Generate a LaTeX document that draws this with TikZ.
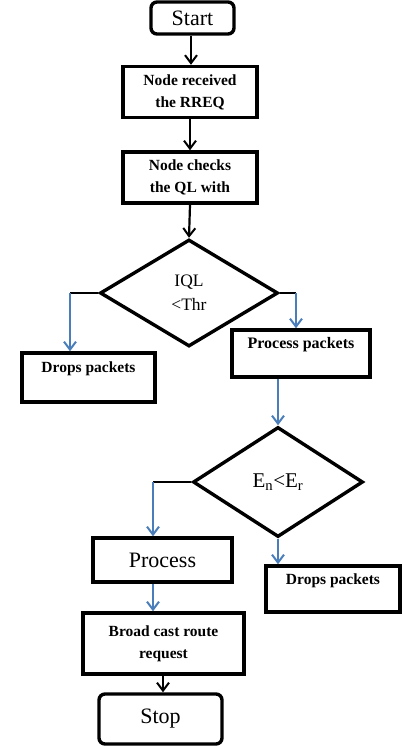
\documentclass[tikz,border=0pt]{standalone}
\usepackage{fontspec}
\setmainfont{Liberation Serif}
\usetikzlibrary{shapes.geometric,arrows.meta}
\definecolor{arrblue}{RGB}{74,126,187}
\tikzset{
  box/.style={draw=black,line width=3.4pt,rectangle,inner sep=2pt,align=center},
  term/.style={box,rounded corners=6pt},
  dec/.style={draw=black,line width=3.4pt,diamond,inner sep=0pt,align=center},
  blk/.style={draw=black,line width=2.2pt},
  blkarr/.style={blk,-{Straight Barb[length=8pt,width=12pt,line width=2pt]}},
  bluarr/.style={draw=arrblue,line width=2.2pt,-{Straight Barb[length=8pt,width=12pt,line width=2pt]}},
  big/.style={font=\fontsize{22}{24}\selectfont},
  mid/.style={font=\bfseries\fontsize{15.5}{22}\selectfont},
  up/.style={text height=11pt,text depth=21pt}
}
\begin{document}
\begin{tikzpicture}[x=1pt,y=1pt]
\useasboundingbox (0,0) rectangle (402,-746);
\node[term,big,minimum width=83,minimum height=32] (start) at (192.5,-18) {Start};
\node[box,mid,minimum width=134,minimum height=51] (recv) at (190,-92) {Node received\\the RREQ};
\node[box,mid,minimum width=134,minimum height=51] (check) at (190,-177.5) {Node checks\\the QL with};
\node[dec,font=\fontsize{17.5}{24}\selectfont,minimum width=178,minimum height=107] (d1) at (189,-293) {IQL\\{<}Thr};
\node[box,mid,up,minimum width=133,minimum height=49] (drop1) at (88.5,-377.5) {Drops packets};
\node[box,font=\bfseries\fontsize{16}{20}\selectfont,up,minimum width=138,minimum height=47] (pp) at (301,-353.5) {Process packets};
\node[dec,font=\fontsize{21}{22}\selectfont,minimum width=170,minimum height=110] (d2) at (278,-482) {E\textsubscript{n}{<}E\textsubscript{r}};
\node[box,big,minimum width=139,minimum height=44] (proc) at (162.5,-560) {Process};
\node[box,mid,up,minimum width=134,minimum height=46] (drop2) at (333,-589) {Drops packets};
\node[box,mid,minimum width=161,minimum height=61] (bcast) at (163.5,-643.5) {Broad cast route\\request};
\node[term,big,minimum width=123,minimum height=50] (stop) at (160.5,-719) {Stop};
% black flow
\coordinate (k0) at (191,-34);
\draw[blkarr] (k0 |- start.south) -- (k0 |- recv.north);
\draw[blkarr] (recv.south) -- (check.north);
\draw[blkarr] (check.south) -- (d1.north);
% d1 left
\coordinate (k1) at (70,-293);
\draw[blk] (d1.west) -- (k1);
\draw[bluarr] (k1) -- (k1 |- drop1.north);
% d1 right
\coordinate (k2) at (296,-293);
\draw[blk] (d1.east) -- (k2);
\draw[bluarr] (k2) -- (k2 |- pp.north);
% pp to d2
\draw[bluarr] (pp.south -| d2.north) -- (d2.north);
% d2 left
\coordinate (k3) at (153,-482);
\draw[blk] (d2.west) -- (k3);
\draw[bluarr] (k3) -- (k3 |- proc.north);
% d2 bottom
\draw[bluarr] (d2.south) -- (d2.south |- drop2.north);
% process to broadcast
\coordinate (k4) at (153,-582);
\draw[bluarr] (k4 |- proc.south) -- (k4 |- bcast.north);
% broadcast to stop
\coordinate (k5) at (163,-674);
\draw[blkarr] (k5 |- bcast.south) -- (k5 |- stop.north);
\end{tikzpicture}
\end{document}
